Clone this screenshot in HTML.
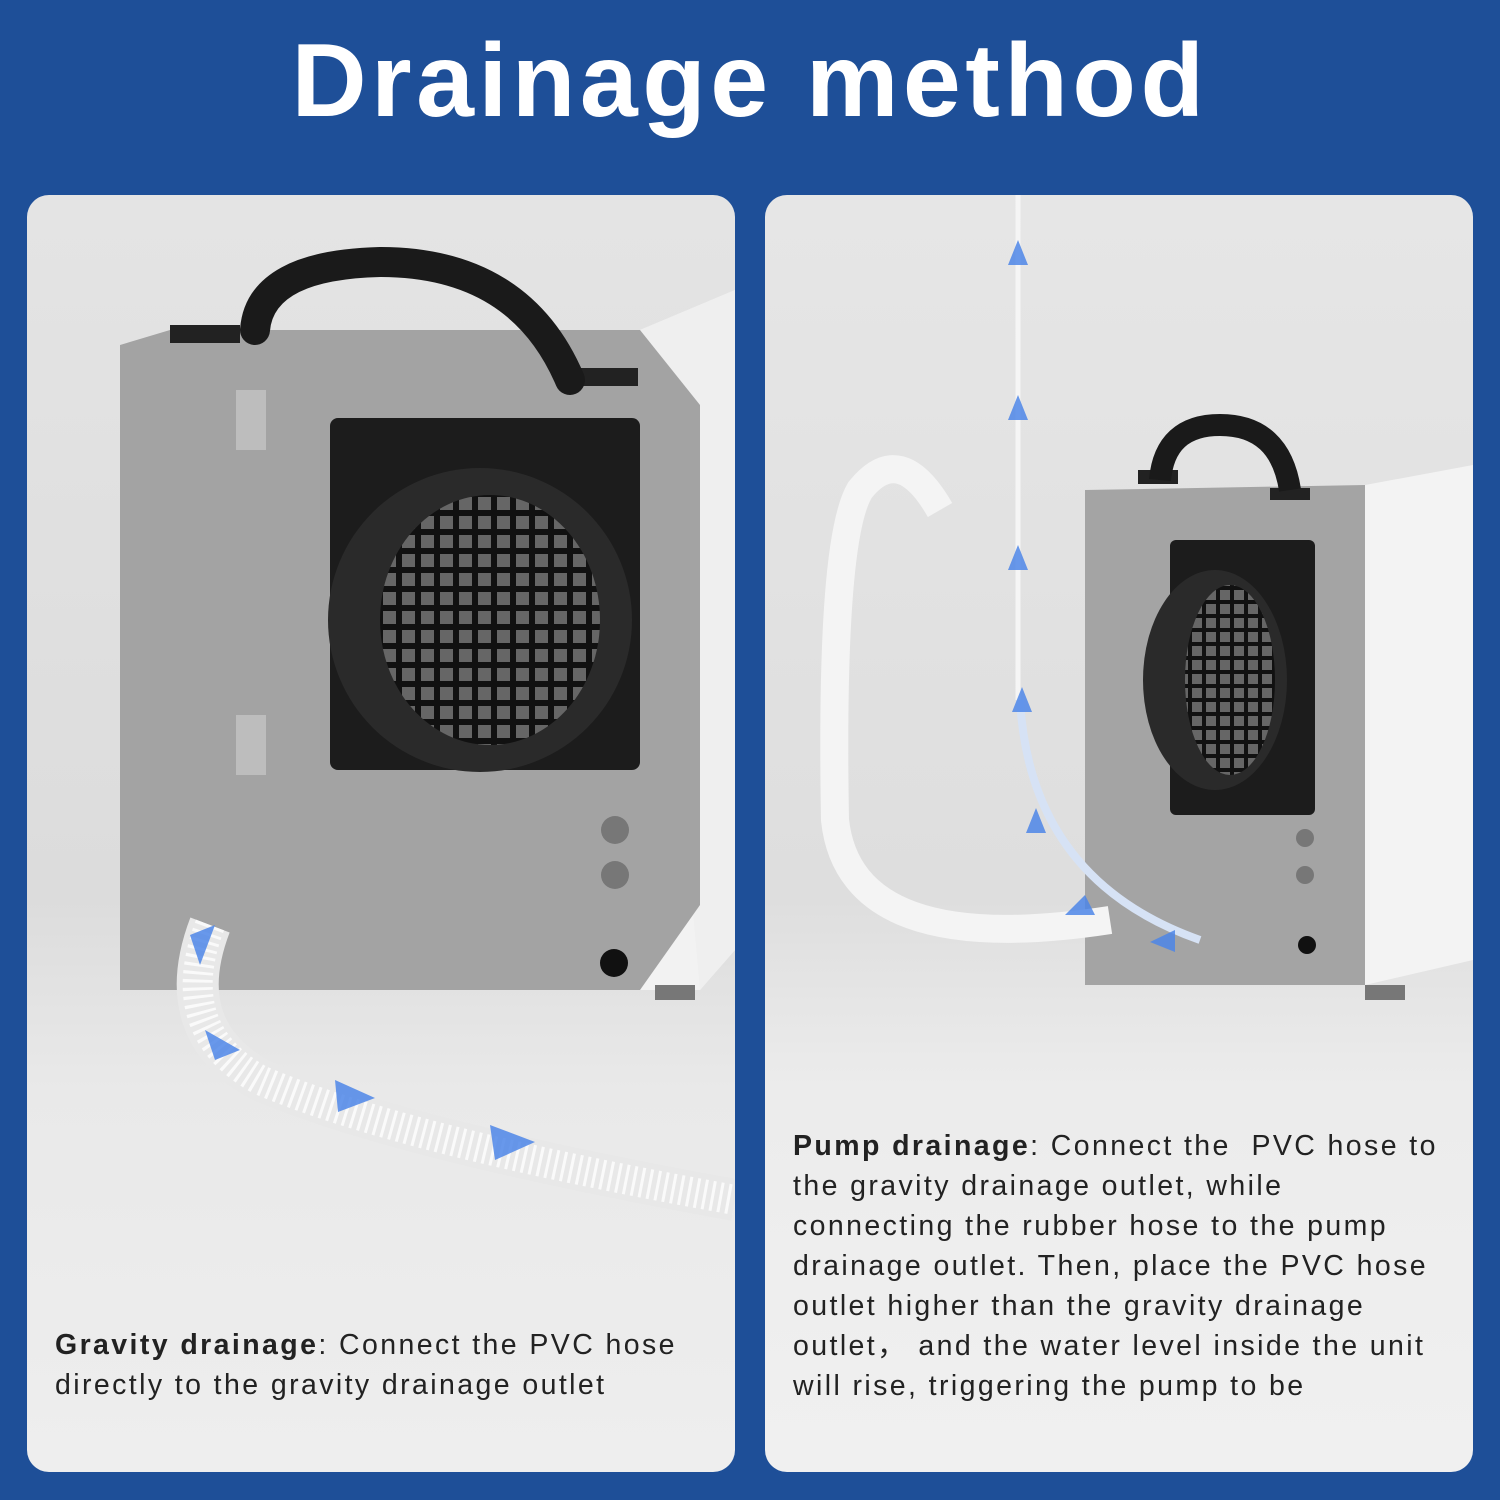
<!DOCTYPE html>
<html><head><meta charset="utf-8"><style>
html,body{margin:0;padding:0}
body{width:1500px;height:1500px;background:#1e4f98;position:relative;overflow:hidden;font-family:"Liberation Sans",sans-serif}
h1{position:absolute;top:22px;left:0;width:1500px;text-align:center;margin:0;color:#fff;font-size:104px;font-weight:bold;letter-spacing:4.5px}
.panel{position:absolute;top:195px;width:708px;height:1277px;border-radius:22px;overflow:hidden}
#L{left:27px;background:linear-gradient(180deg,#e4e4e4 0%,#dcdcdc 55%,#e9e9e9 70%,#eeeeee 100%)}
#R{left:765px;background:linear-gradient(180deg,#e6e6e6 0%,#dedede 55%,#ececec 70%,#f0f0f0 100%)}
.txt{position:absolute;font-size:28.5px;line-height:40px;color:#222;letter-spacing:2.4px;white-space:nowrap}
.txt b{font-weight:bold}
svg{position:absolute;left:0;top:0}
</style></head><body>
<h1>Drainage method</h1>
<div class="panel" id="L">
<svg width="708" height="1277" viewBox="27 195 708 1277">
 <polygon points="120,345 640,330 735,290 735,950 700,990 120,990" fill="#f2f2f2"/>
 <polygon points="640,330 735,290 735,950 700,990" fill="#efefef"/>
 <polygon points="120,345 170,330 640,330 700,405 700,905 640,990 120,990" fill="#a3a3a3"/>
 <rect x="170" y="325" width="70" height="18" fill="#222"/>
 <rect x="570" y="368" width="68" height="18" fill="#222"/>
 <path d="M255,330 Q260,265 380,262 Q520,262 570,380" fill="none" stroke="#1a1a1a" stroke-width="30" stroke-linecap="round"/>
 <rect x="236" y="390" width="30" height="60" fill="#bdbdbd"/>
 <rect x="236" y="715" width="30" height="60" fill="#bdbdbd"/>
 <rect x="330" y="418" width="310" height="352" rx="8" fill="#1c1c1c"/>
 <circle cx="480" cy="620" r="152" fill="#2a2a2a"/>
 <defs><pattern id="g" width="19" height="19" patternUnits="userSpaceOnUse"><rect width="19" height="19" fill="#111"/><rect x="3" y="3" width="13" height="13" fill="#666"/></pattern>
 <pattern id="g2" width="14" height="14" patternUnits="userSpaceOnUse"><rect width="14" height="14" fill="#111"/><rect x="2" y="2" width="10" height="10" fill="#666"/></pattern></defs>
 <ellipse cx="490" cy="620" rx="110" ry="125" fill="url(#g)"/>
 <circle cx="615" cy="830" r="14" fill="#777"/><circle cx="615" cy="875" r="14" fill="#777"/>
 <circle cx="614" cy="963" r="14" fill="#111"/>
 <rect x="655" y="985" width="40" height="15" fill="#777"/>
 <path d="M210,925 Q170,1030 260,1080 Q400,1140 735,1200" fill="none" stroke="#e8e8e8" stroke-width="42"/>
 <path d="M210,925 Q170,1030 260,1080 Q400,1140 735,1200" fill="none" stroke="#fafafa" stroke-width="30" stroke-dasharray="3 5"/>
 <g fill="#4e86e8" opacity=".85">
  <polygon points="190,935 215,925 200,965"/><polygon points="205,1030 240,1050 215,1060"/>
  <polygon points="335,1080 375,1098 338,1112"/><polygon points="490,1125 535,1142 495,1160"/>
 </g>
</svg>
<div class="txt" style="left:28px;top:1130px"><b>Gravity drainage</b>: Connect the PVC hose<br>directly to the gravity drainage outlet</div>
</div>
<div class="panel" id="R">
<svg width="708" height="1277" viewBox="765 195 708 1277">
 <polygon points="1365,485 1473,465 1473,960 1365,985" fill="#f3f3f3"/>
 <polygon points="1085,490 1365,485 1365,985 1085,985" fill="#a4a4a4"/>
 <rect x="1138" y="470" width="40" height="14" fill="#222"/><rect x="1270" y="488" width="40" height="12" fill="#222"/>
 <path d="M1160,480 Q1165,425 1220,425 Q1280,425 1290,490" fill="none" stroke="#1a1a1a" stroke-width="22"/>
 <rect x="1170" y="540" width="145" height="275" rx="6" fill="#1c1c1c"/>
 <ellipse cx="1215" cy="680" rx="72" ry="110" fill="#2a2a2a"/>
 <ellipse cx="1230" cy="680" rx="45" ry="95" fill="url(#g2)"/>
 <circle cx="1305" cy="838" r="9" fill="#777"/><circle cx="1305" cy="875" r="9" fill="#777"/><circle cx="1307" cy="945" r="9" fill="#111"/>
 <rect x="1365" y="985" width="40" height="15" fill="#777"/>
 <line x1="1018" y1="195" x2="1018" y2="700" stroke="#f5f5f5" stroke-width="5"/>
 <path d="M1020,700 Q1030,880 1200,940" fill="none" stroke="#d6e2f5" stroke-width="8"/>
 <path d="M940,510 Q900,440 860,490 Q830,540 835,820 Q850,960 1110,920" fill="none" stroke="#f4f4f4" stroke-width="28"/>
 <g fill="#4e86e8" opacity=".85">
  <polygon points="1008,265 1018,240 1028,265"/><polygon points="1008,420 1018,395 1028,420"/>
  <polygon points="1008,570 1018,545 1028,570"/><polygon points="1012,712 1022,687 1032,712"/>
  <polygon points="1026,833 1036,808 1046,833"/><polygon points="1065,915 1085,895 1095,915"/>
  <polygon points="1150,942 1175,930 1175,952"/>
 </g>
</svg>
<div class="txt" style="left:28px;top:931px"><b>Pump drainage</b>: Connect the &nbsp;PVC hose to<br>the gravity drainage outlet, while<br>connecting the rubber hose to the pump<br>drainage outlet. Then, place the PVC hose<br>outlet higher than the gravity drainage<br>outlet，&nbsp;and the water level inside the unit<br>will rise, triggering the pump to be</div>
</div>
</body></html>
